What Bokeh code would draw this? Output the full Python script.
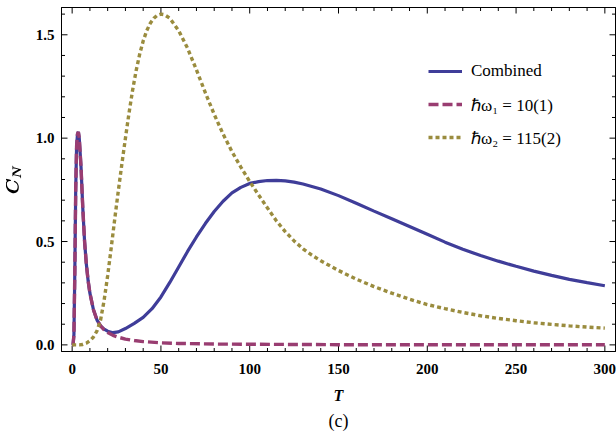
import math
from bokeh.plotting import figure
from bokeh.models import (Range1d, FixedTicker, PrintfTickFormatter, LinearAxis,
                          Legend, LegendItem, Title)
from bokeh.embed import file_html
from bokeh.resources import INLINE

# ---- data ----
T_w1 = [0, 0.5, 1.0, 1.5, 2.0, 2.5, 3.0, 3.5, 4.0, 5.0, 6.0, 7.0, 8.0, 9.0, 10, 12, 14, 16,
        18, 20, 23, 26, 30, 35, 40, 50, 60, 80, 100, 150, 200, 250, 300]
C_w1 = [0, 0.0, 0.05, 0.35, 0.75, 0.96, 1.02, 1.03, 1.0, 0.86, 0.66, 0.50, 0.39, 0.31, 0.25,
        0.17, 0.12, 0.092, 0.073, 0.06, 0.046, 0.037, 0.028, 0.021, 0.016, 0.010, 0.007,
        0.004, 0.003, 0.001, 0.001, 0.0005, 0.0003]

T_comb = [0, 0.5, 1.0, 1.5, 2.0, 2.5, 3.0, 3.5, 4.0, 5.0, 6.0, 7.0, 8.0, 9.0, 10, 12, 14, 16,
          18, 20, 23, 26, 30, 35, 40, 45, 50, 55, 60, 65, 70, 75, 80, 85, 90, 95, 100, 105,
          110, 115, 120, 125, 130, 140, 150, 160, 170, 180, 190, 200, 210, 220, 230, 240,
          250, 260, 270, 280, 290, 300]
C_comb = [0, 0.0, 0.05, 0.35, 0.75, 0.96, 1.02, 1.03, 1.0, 0.86, 0.66, 0.50, 0.39, 0.31, 0.25,
          0.17, 0.12, 0.092, 0.076, 0.066, 0.059, 0.063, 0.079, 0.104, 0.133, 0.175, 0.232,
          0.302, 0.377, 0.452, 0.522, 0.587, 0.645, 0.695, 0.735, 0.762, 0.781, 0.790, 0.795,
          0.796, 0.793, 0.787, 0.778, 0.754, 0.722, 0.685, 0.647, 0.610, 0.573, 0.535,
          0.497, 0.463, 0.432, 0.405, 0.380, 0.357, 0.336, 0.317, 0.301, 0.286]

T_w2 = [0, 4, 6, 8, 10, 12, 14, 16, 18, 20, 22, 24, 26, 28, 30, 32, 34, 36, 38, 40, 42, 44,
        46, 48, 50, 52, 55, 60, 65, 70, 75, 80, 85, 90, 95, 100, 105, 110, 115, 120, 125,
        130, 135, 140, 150, 160, 170, 180, 190, 200, 210, 220, 230, 240, 250, 260, 270,
        280, 290, 300]
C_w2 = [0, 0.0, 0.002, 0.008, 0.02, 0.038, 0.068, 0.12, 0.215, 0.335, 0.47, 0.61, 0.745,
        0.875, 1.0, 1.12, 1.23, 1.325, 1.405, 1.47, 1.52, 1.556, 1.58, 1.595, 1.6, 1.597,
        1.58, 1.52, 1.435, 1.33, 1.22, 1.115, 1.02, 0.935, 0.86, 0.79, 0.725, 0.662,
        0.600, 0.548, 0.503, 0.465, 0.434, 0.407, 0.36, 0.318, 0.282, 0.25, 0.221, 0.195,
        0.175, 0.157, 0.141, 0.128, 0.117, 0.107, 0.099, 0.092, 0.086, 0.081]

x_major = [0, 50, 100, 150, 200, 250, 300]
x_minor = [v for v in range(0, 310, 10) if v % 50 != 0]
y_major = [0.0, 0.5, 1.0, 1.5]
y_minor = [round(0.1 * k, 1) for k in range(0, 17) if k % 5 != 0]

labels = ["Combined", "\u210f\u03c9\u2081 = 10(1)", "\u210f\u03c9\u2082 = 115(2)"]
colors = ["#3F3D99", "#993D71", "#9A8C3E"]

SERIF = "'Liberation Serif', 'Times New Roman', serif"
X0, X1 = -6, 306
Y0, Y1 = -0.032, 1.632

p = figure(width=616, height=432, output_backend="svg", toolbar_location=None,
           x_range=Range1d(X0, X1), y_range=Range1d(Y0, Y1),
           min_border_left=61, min_border_right=1, min_border_top=7, min_border_bottom=81,
           x_axis_type=None, y_axis_type=None)
p.background_fill_color = "white"
p.border_fill_color = "white"
p.outline_line_color = "black"
p.outline_line_width = 1
p.xgrid.visible = False
p.ygrid.visible = False

def style_axis(ax, show_labels):
    ax.axis_line_color = "black"
    ax.axis_line_width = 1
    ax.major_tick_in = 0
    ax.major_tick_out = 0
    ax.minor_tick_in = 0
    ax.minor_tick_out = 0
    if show_labels:
        ax.major_label_text_font = SERIF
        ax.major_label_text_font_style = "bold"
        ax.major_label_text_font_size = "15px"
        ax.major_label_text_color = "black"
        ax.axis_label_text_font = SERIF
        ax.axis_label_text_font_style = "bold italic"
        ax.axis_label_text_font_size = "16px"
        ax.axis_label_text_color = "black"
    else:
        ax.major_label_text_font_size = "0px"
        ax.major_label_standoff = 0

xb = LinearAxis(ticker=FixedTicker(ticks=x_major, minor_ticks=x_minor), axis_label="T")
style_axis(xb, True)
xb.major_label_standoff = 12
xb.axis_label_standoff = 10
xt = LinearAxis(ticker=FixedTicker(ticks=x_major, minor_ticks=x_minor))
style_axis(xt, False)
p.add_layout(xt, "above")

yl = LinearAxis(ticker=FixedTicker(ticks=y_major, minor_ticks=y_minor),
                formatter=PrintfTickFormatter(format="%.1f"),
                axis_label=r"$$\boldsymbol{C_N}$$")
style_axis(yl, True)
yl.major_label_standoff = 7
yl.axis_label_standoff = 10
p.add_layout(yl, "left")
yr = LinearAxis(ticker=FixedTicker(ticks=y_major, minor_ticks=y_minor))
style_axis(yr, False)
p.add_layout(yr, "right")

# inward tick marks on all four sides of the frame
tick_kw = dict(line_color="black", line_width=1, length_units="screen")
p.ray(x=x_major, y=[Y0] * len(x_major), length=6, angle=math.pi / 2, **tick_kw)
p.ray(x=x_minor, y=[Y0] * len(x_minor), length=3.5, angle=math.pi / 2, **tick_kw)
p.ray(x=x_major, y=[Y1] * len(x_major), length=6, angle=-math.pi / 2, **tick_kw)
p.ray(x=x_minor, y=[Y1] * len(x_minor), length=3.5, angle=-math.pi / 2, **tick_kw)
p.ray(x=[X0] * len(y_major), y=y_major, length=6, angle=0, **tick_kw)
p.ray(x=[X0] * len(y_minor), y=y_minor, length=3.5, angle=0, **tick_kw)
p.ray(x=[X1] * len(y_major), y=y_major, length=6, angle=math.pi, **tick_kw)
p.ray(x=[X1] * len(y_minor), y=y_minor, length=3.5, angle=math.pi, **tick_kw)

r_comb = p.line(T_comb, C_comb, line_color=colors[0], line_width=3.2)
r_w1 = p.line(T_w1, C_w1, line_color=colors[1], line_width=3.4, line_dash="10 4")
r_w2 = p.line(T_w2, C_w2, line_color=colors[2], line_width=3.4, line_dash="4 3")

legend = Legend(items=[LegendItem(label=labels[0], renderers=[r_comb]),
                       LegendItem(label=labels[1], renderers=[r_w1]),
                       LegendItem(label=labels[2], renderers=[r_w2])],
                location=(367, 202), orientation="vertical")
legend.border_line_color = None
legend.background_fill_alpha = 0
legend.padding = 0
legend.margin = 0
legend.spacing = 9
legend.glyph_width = 34
legend.glyph_height = 24
legend.label_height = 24
legend.label_standoff = 9
legend.label_text_font = SERIF
legend.label_text_font_size = "17px"
legend.label_text_color = "black"
p.add_layout(legend)

p.add_layout(xb, "below")
cap = Title(text="(c)", align="center", text_font=SERIF, text_font_size="18px",
            text_font_style="normal", text_color="black", standoff=4)
p.add_layout(cap, "below")

open("out.html", "w").write(file_html(p, INLINE))
